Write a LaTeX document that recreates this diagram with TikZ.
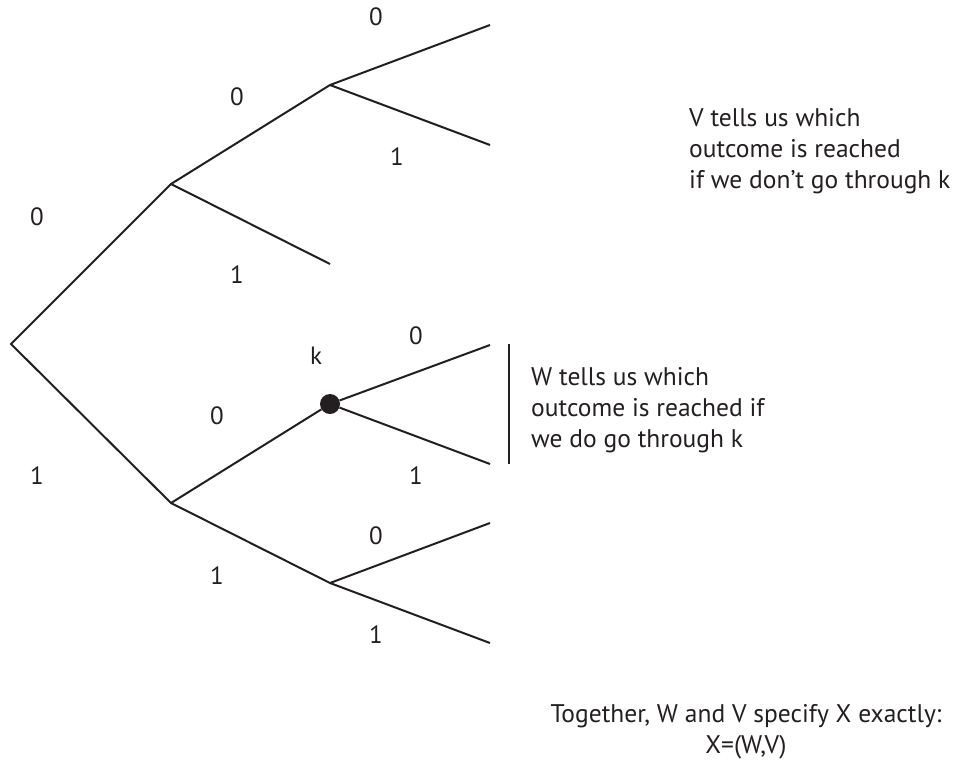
\documentclass[tikz,border=0pt]{standalone}
\usepackage{fontspec}
\setmainfont{PT Sans}
\usetikzlibrary{positioning}
\definecolor{inkblack}{HTML}{231F20}
\tikzset{
  branch/.style={inkblack, line width=2pt, line join=miter},
  bitlabel/.style={inkblack, inner sep=0pt, font=\fontsize{25}{30}\selectfont},
  notenode/.style={inkblack, inner sep=0pt, align=left, font=\fontsize{25.5}{31}\selectfont},
  statenode/.style={circle, fill=inkblack, inner sep=0pt, minimum size=20pt}
}

\begin{document}
\begin{tikzpicture}[x=1pt, y=-1pt]
  \useasboundingbox (0,0) rectangle (961,761);
  % tree vertices
  \coordinate (root) at (11,344);
  \coordinate (n0) at (171,184);
  \coordinate (n1) at (171,503);
  \coordinate (n00) at (330,85);
  \coordinate (n01) at (330,264);
  \node[statenode] (k) at (330,404) {};
  \coordinate (n11) at (330,583);
  \coordinate (n000) at (490,25);
  \coordinate (n001) at (490,145);
  \coordinate (k0) at (490,345);
  \coordinate (k1) at (490,464);
  \coordinate (n110) at (490,523);
  \coordinate (n111) at (490,643);
  \draw[branch] (n000) -- (n00) -- (n0) -- (root) -- (n1) -- (n11) -- (n111);
  \draw[branch] (n01) -- (n0);
  \draw[branch] (n001) -- (n00);
  \draw[branch] (n1) -- (k) -- (k0);
  \draw[branch] (k) -- (k1);
  \draw[branch] (n110) -- (n11);
  % bracket for W
  \coordinate (bartop) at (509,344);
  \coordinate (barbot) at (509,464);
  \draw[branch] (bartop) -- (barbot);
  % branch labels
  \node[bitlabel] (l000) at (376,17) {0};
  \node[bitlabel] (l00) at (237,97) {0};
  \node[bitlabel] (l001) at (397,157) {1};
  \node[bitlabel] (l0) at (37,217) {0};
  \node[bitlabel] (l01) at (237,275) {1};
  \node[bitlabel] (lk) at (316,356) {k};
  \node[bitlabel] (lk0) at (416,336) {0};
  \node[bitlabel] (l10) at (217,416) {0};
  \node[bitlabel] (l1) at (37,476) {1};
  \node[bitlabel] (lk1) at (416,476) {1};
  \node[bitlabel] (l110) at (376,536) {0};
  \node[bitlabel] (l11) at (217,576) {1};
  \node[bitlabel] (l111) at (376,635) {1};
  % notes (base = last line)
  \node[notenode, anchor=base west] (vnote) at (689,188) {V tells us which\\outcome is reached\\if we don’t go through k};
  \node[notenode, anchor=base west] (wnote) at (531,447) {W tells us which\\outcome is reached if\\we do go through k};
  \node[notenode, align=center, anchor=base] (xnote) at (746,753) {Together, W and V specify X exactly:\\X=(W,V)};
\end{tikzpicture}
\end{document}
